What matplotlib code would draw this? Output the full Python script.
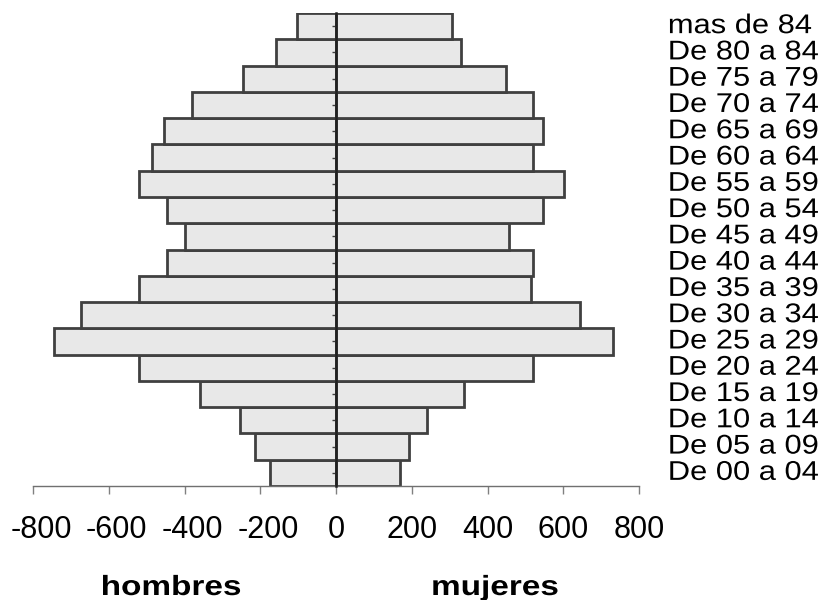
import matplotlib
matplotlib.use('Agg')
import matplotlib.pyplot as plt
import numpy as np
from matplotlib.patheffects import AbstractPathEffect
from matplotlib.transforms import Affine2D, ScaledTranslation, blended_transform_factory

plt.rcParams['font.family'] = ['Liberation Sans', 'DejaVu Sans']
plt.rcParams['axes.unicode_minus'] = False

# age groups, bottom to top
grupos = ['De 00 a 04', 'De 05 a 09', 'De 10 a 14', 'De 15 a 19', 'De 20 a 24',
          'De 25 a 29', 'De 30 a 34', 'De 35 a 39', 'De 40 a 44', 'De 45 a 49',
          'De 50 a 54', 'De 55 a 59', 'De 60 a 64', 'De 65 a 69', 'De 70 a 74',
          'De 75 a 79', 'De 80 a 84', 'mas de 84']
hombres = [174, 214, 254, 359, 520, 744, 672, 520, 447, 399,
           447, 520, 487, 455, 381, 245, 159, 103]
mujeres = [170, 192, 240, 339, 521, 731, 643, 514, 521, 456,
           546, 603, 521, 546, 521, 449, 330, 307]
ticks = [-800, -600, -400, -200, 0, 200, 400, 600, 800]
tick_labels = ['-800', '-600', '-400', '-200', '0', '200', '400', '600', '800']


class Stretch(AbstractPathEffect):
    # widen text horizontally, like the squashed excel export
    def __init__(self, kx, anchor='center'):
        super().__init__()
        self.kx = kx
        self.anchor = anchor

    def draw_path(self, renderer, gc, tpath, affine, rgbFace=None):
        ext = tpath.get_extents()
        x0 = (ext.x0 + ext.x1) / 2 if self.anchor == 'center' else ext.x0
        t = Affine2D().translate(-x0, 0).scale(self.kx, 1).translate(x0, 0) + affine
        renderer.draw_path(gc, tpath, t, rgbFace)


fig = plt.figure(figsize=(8.27, 6.0), dpi=100)
ax = fig.add_axes([33/827, 1 - 486/600, 606/827, 473/600])

y = np.arange(len(grupos))
bar_kw = dict(height=1.0, color='#e8e8e8', edgecolor='#404040', linewidth=2.0)
ax.barh(y, -np.array(hombres), **bar_kw)
ax.barh(y, mujeres, **bar_kw)

ax.set_xlim(-800, 800)
ax.set_ylim(-0.5, len(grupos) - 0.5)

for s in ('top', 'right'):
    ax.spines[s].set_visible(False)
ax.spines['left'].set_position(('data', 0))
ax.spines['left'].set_color('#202020')
ax.spines['left'].set_linewidth(1.8)
ax.spines['left'].set_zorder(3)
ax.spines['bottom'].set_color('#707070')
ax.spines['bottom'].set_linewidth(1.0)

ax.set_yticks(y)
ax.set_yticklabels([])
ax.tick_params(axis='y', length=3, width=1, color='#404040', direction='out')

ax.set_xticks(ticks)
ax.set_xticklabels(tick_labels)
ax.tick_params(axis='x', length=6, width=1, color='#808080', direction='out',
               pad=15, labelsize=22, labelcolor='black')
for lab, v in zip(ax.get_xticklabels(), ticks):
    if v < 0:
        lab.set_transform(lab.get_transform() + ScaledTranslation(8/100, 0, fig.dpi_scale_trans))

trans = blended_transform_factory(ax.transAxes, ax.transData)
for yi, g in zip(y, grupos):
    ax.text(1.048, yi, g, transform=trans, ha='left', va='center', fontsize=19.5,
            clip_on=False, path_effects=[Stretch(1.14, anchor='left')])

fig.text(171/827, 1 - 595/600, 'hombres', ha='center', va='baseline', fontsize=20,
         fontweight='bold', path_effects=[Stretch(1.2)])
fig.text(495/827, 1 - 595/600, 'mujeres', ha='center', va='baseline', fontsize=20,
         fontweight='bold', path_effects=[Stretch(1.2)])

fig.savefig('out.png', dpi=100)
